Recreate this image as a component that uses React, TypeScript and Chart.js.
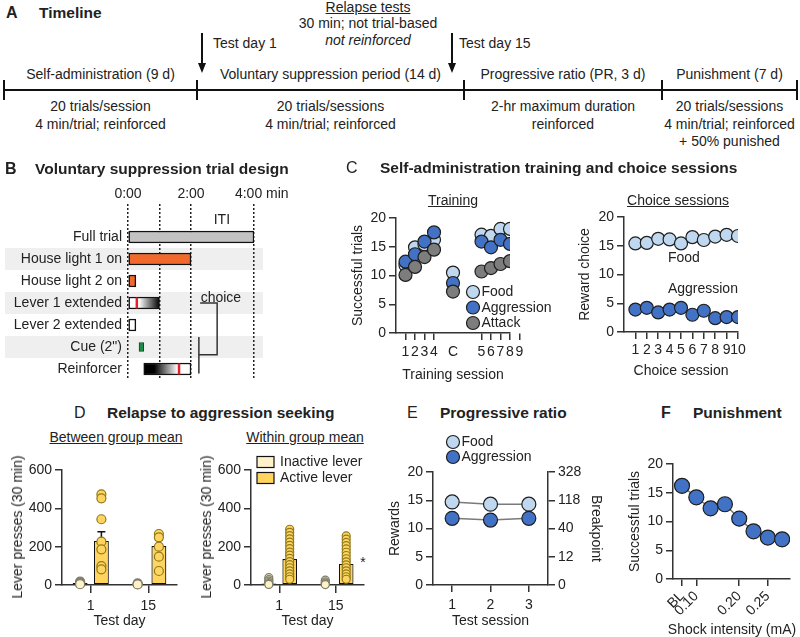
import React, { useEffect, useRef } from 'react';
import { Chart, registerables } from 'chart.js';

Chart.register(...registerables);

const FONT = '"Liberation Sans", Arial, Helvetica, sans-serif';
const INK = '#222222';
const AXIS = '#333333';
const CLEAR = 'rgba(0,0,0,0)';
const FOOD = '#bfd8ef';
const AGGR = '#4272c6';
const ATTACK = '#7d7d7d';
const PT_BORDER = '#1e1e1e';
const INACTIVE = '#fff2c8';
const ACTIVE = '#ffd45f';

Chart.defaults.font.family = FONT;
Chart.defaults.font.size = 14;
Chart.defaults.color = INK;

// ---------------- Panel A: timeline (text content)
const phases = ['Self-administration (9 d)', 'Voluntary suppression period (14 d)', 'Progressive ratio (PR, 3 d)', 'Punishment (7 d)'];
const phaseDetails = [
  ['20 trials/session', '4 min/trial; reinforced'],
  ['20 trials/sessions', '4 min/trial; reinforced'],
  ['2-hr maximum duration', 'reinforced'],
  ['20 trials/sessions', '4 min/trial; reinforced', '+ 50% punished'],
];
const testDays = ['Test day 1', 'Test day 15'];
const relapseText = ['Relapse tests', '30 min; not trial-based', 'not reinforced'];

// ---------------- Panel B: trial design (minutes)
const bRows = ['', 'Full trial', 'House light 1 on', 'House light 2 on', 'Lever 1 extended', 'Lever 2 extended', 'Cue (2")', 'Reinforcer'];
const bOnset = [null, 0, 0, 0, 0, 0, 0.35, 0.5];
const bOffset = [null, 4, 2, 0.25, 1, 0.25, 0.5, 2];
const bCueRow = 6;
const bShadedRows = [2, 4, 6];
const bRedMarkRows = [4, 7];
const bRedMarkTimes = [0.28, 1.62];
const bTimeTicks = [0, 1, 2, 4];
const bTimeLabels = ['0:00', '', '2:00', '    4:00 min'];

// ---------------- Panel C: training
const trainLabels = ['1', '2', '3', '4', 'C', '5', '6', '7', '8', '9'];
const trainFood = [11.8, 14.9, 15.4, 16.2, 10.5, 17.1, 16.9, 18.1, 18.1, 18.0];
const trainAggr = [12.4, 13.7, 15.9, 17.5, 8.7, 15.9, 14.9, 16.2, 15.5, 15.5];
const trainAttack = [10.1, 11.5, 13.2, 14.5, 7.2, 10.7, 11.3, 12.0, 12.5, 11.0];

// ---------------- Panel C: choice sessions
const choiceLabels = ['1', '2', '3', '4', '5', '6', '7', '8', '9', '10'];
const choiceFood = [15.4, 15.5, 16.2, 16.1, 15.4, 16.5, 16.0, 16.6, 16.9, 16.7];
const choiceAggr = [3.9, 4.2, 3.4, 3.9, 4.2, 3.0, 3.7, 2.4, 2.6, 2.6];

// ---------------- Panel D: relapse
const dDays = ['1', '15'];
const btwInactiveMean = [10, 5];
const btwInactiveSem = [4, 2];
const btwActiveMean = [230, 203];
const btwActiveSem = [48, 32];
const btwInactiveDay1 = [18, 14, 10, 7, 4];
const btwInactiveDay15 = [8, 5, 3];
const btwActiveDay1 = [473, 452, 343, 226, 186, 99, 82];
const btwActiveDay15 = [266, 249, 200, 148, 73];

const winInactiveMean = [8, 5];
const winInactiveSem = [3, 2];
const winActiveMean = [136, 110];
const winActiveSem = [16, 14];
const winInactiveDay1 = [38, 28, 20, 13, 7, 3];
const winInactiveDay15 = [25, 17, 11, 6, 2];
const winActiveDay1 = [291, 275, 258, 241, 224, 207, 190, 172, 156, 139, 122, 106, 90, 74, 58, 43, 30];
const winActiveDay15 = [256, 239, 222, 205, 188, 171, 154, 137, 121, 105, 90, 74, 58, 43, 30];

// ---------------- Panel E: progressive ratio
const prSessions = ['1', '2', '3'];
const prFood = [14.7, 14.3, 14.3];
const prAggr = [11.8, 11.5, 11.8];
const breakpointLabels = ['0', '12', '40', '118', '328'];

// ---------------- Panel F: punishment
const shockTickIndex = [0, 1, 4, 6];
const shockTickLabels = ['BL', '0.10', '0.20', '0.25'];
const punishTrials = [16.2, 14.2, 12.3, 13.0, 10.5, 8.3, 7.2, 6.9];

// ---------------- helpers
function yAxis(o: any) {
  return {
    type: 'linear',
    position: o.position || 'left',
    min: o.min,
    max: o.max,
    border: { display: true, color: AXIS, width: 1.5 },
    grid: { display: true, drawOnChartArea: false, drawTicks: true, tickLength: o.tickLen ?? 7, color: AXIS, lineWidth: 1.5 },
    ticks: { color: INK, font: { size: 14 }, padding: 3, stepSize: o.step, autoSkip: false, callback: o.callback },
    title: { display: !!o.title, text: o.title || '', color: INK, font: { size: 14 }, padding: 0 },
    afterFit: (s: any) => { s.width = o.width; },
  };
}

function xAxis(o: any) {
  const a: any = {
    type: o.type || 'linear',
    position: 'bottom',
    border: { display: true, color: AXIS, width: 1.5 },
    grid: { display: true, drawOnChartArea: false, drawTicks: true, tickLength: o.tickLen ?? 7, color: AXIS, lineWidth: 1.5, offset: false },
    ticks: { color: INK, font: { size: 14 }, padding: o.pad ?? 5, autoSkip: false, maxRotation: o.rot ?? 0, minRotation: o.rot ?? 0 },
    title: { display: !!o.title, text: o.title || '', color: INK, font: { size: 14 }, padding: 0 },
    afterFit: (s: any) => { s.height = o.height; },
  };
  if (o.min !== undefined) a.min = o.min;
  if (o.max !== undefined) a.max = o.max;
  if (o.offset !== undefined) a.offset = o.offset;
  if (o.ticksAt) {
    a.afterBuildTicks = (s: any) => { s.ticks = o.ticksAt.map((v: number) => ({ value: v })); };
    a.ticks.callback = (_v: any, i: number) => o.labels[i];
  }
  if (o.tickColor) a.grid.tickColor = o.tickColor;
  return a;
}

function baseOptions(padding: any) {
  return {
    responsive: false,
    maintainAspectRatio: false,
    animation: false,
    devicePixelRatio: 1,
    layout: { padding },
    plugins: { legend: { display: false }, tooltip: { enabled: false } },
  };
}

function drawDot(ctx: any, x: number, y: number, r: number, fill: string, stroke: string, lw = 1.2) {
  ctx.beginPath();
  ctx.arc(x, y, r, 0, Math.PI * 2);
  ctx.fillStyle = fill;
  ctx.fill();
  ctx.lineWidth = lw;
  ctx.strokeStyle = stroke;
  ctx.stroke();
}

function circleLegend(id: string, items: [string, string][], dx: number, dy: number, gap: number, r: number) {
  return {
    id,
    afterDraw(chart: any) {
      const { ctx, chartArea } = chart;
      ctx.save();
      ctx.font = `14px ${FONT}`;
      ctx.textBaseline = 'middle';
      items.forEach(([label, color], k) => {
        const cx = chartArea.left + dx;
        const cy = chartArea.top + dy + k * gap;
        drawDot(ctx, cx, cy, r, color, PT_BORDER);
        ctx.fillStyle = INK;
        ctx.fillText(label, cx + r + 2, cy + 0.5);
      });
      ctx.restore();
    },
  };
}

function ChartBox({ x, y, w, h, make }: any) {
  const ref = useRef<HTMLCanvasElement>(null);
  useEffect(() => {
    const chart = new Chart(ref.current as HTMLCanvasElement, make());
    return () => chart.destroy();
  }, []);
  return <canvas ref={ref} width={w} height={h} style={{ position: 'absolute', left: x, top: y, width: w, height: h }} />;
}

// ---------------- Panel B config
function makeB() {
  const main = bRows.map((_, i) => (bOnset[i] == null || i === bCueRow ? null : [bOnset[i], bOffset[i]]));
  const cue = bRows.map((_, i) => (i === bCueRow ? [bOnset[i], bOffset[i]] : null));
  const solid: Record<number, string> = { 1: '#c2c2c2', 2: '#f26a2b', 3: '#f26a2b', 5: '#ffffff' };
  const shade = {
    id: 'rowShade',
    beforeDraw(chart: any) {
      const { ctx, scales, chartArea } = chart;
      ctx.save();
      ctx.fillStyle = '#efefef';
      bShadedRows.forEach((r) => {
        const yc = scales.y.getPixelForValue(r);
        ctx.fillRect(5, yc - 11, chartArea.right + 9 - 5, 22);
      });
      ctx.restore();
    },
  };
  const notes = {
    id: 'bNotes',
    afterDatasetsDraw(chart: any) {
      const { ctx, scales } = chart;
      const X = (v: number) => scales.x.getPixelForValue(v);
      const Y = (v: number) => scales.y.getPixelForValue(v);
      ctx.save();
      ctx.strokeStyle = '#e3202a';
      ctx.lineWidth = 2.5;
      bRedMarkRows.forEach((r, k) => {
        const x = X(bRedMarkTimes[k]);
        ctx.beginPath();
        ctx.moveTo(x, Y(r) - 5.5);
        ctx.lineTo(x, Y(r) + 5.5);
        ctx.stroke();
      });
      ctx.fillStyle = INK;
      ctx.font = `14px ${FONT}`;
      ctx.textAlign = 'center';
      ctx.textBaseline = 'middle';
      ctx.fillText('ITI', X(2.98), Y(0.25));
      ctx.fillText('choice', X(2.95), Y(3.8));
      ctx.strokeStyle = '#333';
      ctx.lineWidth = 1.5;
      ctx.beginPath();
      ctx.moveTo(X(2.29), Y(4));
      ctx.lineTo(X(2.83), Y(4));
      ctx.lineTo(X(2.83), Y(6.35));
      ctx.lineTo(X(2.25), Y(6.35));
      ctx.moveTo(X(2.25), Y(5.55));
      ctx.lineTo(X(2.25), Y(7.2));
      ctx.stroke();
      ctx.restore();
    },
  };
  return {
    type: 'bar',
    data: {
      labels: bRows,
      datasets: [
        {
          data: main,
          grouped: false,
          barThickness: 12,
          borderWidth: 1.5,
          borderColor: '#111',
          borderSkipped: false,
          backgroundColor: (c: any) => {
            const i = c.dataIndex;
            if (i === 4 || i === 7) {
              const chart = c.chart;
              const xs = chart.scales && chart.scales.x;
              if (!xs || !chart.chartArea) return '#888';
              const g = chart.ctx.createLinearGradient(xs.getPixelForValue(bOnset[i]), 0, xs.getPixelForValue(bOffset[i]), 0);
              if (i === 4) {
                g.addColorStop(0, '#ffffff');
                g.addColorStop(0.35, '#ffffff');
                g.addColorStop(1, '#000000');
              } else {
                g.addColorStop(0, '#000000');
                g.addColorStop(0.22, '#000000');
                g.addColorStop(0.72, '#ffffff');
                g.addColorStop(1, '#ffffff');
              }
              return g;
            }
            return solid[i] || '#ccc';
          },
        },
        {
          data: cue,
          grouped: false,
          barThickness: 9,
          borderWidth: 1,
          borderColor: '#0c4a22',
          borderSkipped: false,
          backgroundColor: '#1d8b45',
        },
      ],
    },
    options: {
      ...baseOptions({ top: 0, right: 46, bottom: 16, left: 0 }),
      indexAxis: 'y',
      scales: {
        x: {
          type: 'linear',
          position: 'top',
          min: 0,
          max: 4,
          afterBuildTicks: (s: any) => { s.ticks = bTimeTicks.map((v) => ({ value: v })); },
          afterFit: (s: any) => { s.height = 28; },
          border: { display: false, dash: [2, 2] },
          grid: { display: true, drawOnChartArea: true, drawTicks: false, color: '#222', lineWidth: 1.5 },
          ticks: { padding: 1, color: INK, font: { size: 14 }, autoSkip: false, maxRotation: 0, callback: (_v: any, i: number) => bTimeLabels[i] },
        },
        y: {
          type: 'category',
          afterFit: (s: any) => { s.width = 128; },
          border: { display: false },
          grid: { display: false, drawTicks: false },
          ticks: { padding: 6, color: INK, font: { size: 14 }, autoSkip: false },
        },
      },
    },
    plugins: [shade, notes],
  };
}

// ---------------- Panel C configs
function makeTraining() {
  const xs = trainLabels.map((_, i) => (i < 4 ? i + 1 : i === 4 ? 6 : i + 4));
  const pts = (arr: number[]) => arr.map((v, i) => ({ x: xs[i], y: v }));
  const ds = (arr: number[], color: string, order: number) => ({
    data: pts(arr), pointRadius: 6.5, pointBackgroundColor: color, pointBorderColor: PT_BORDER, pointBorderWidth: 1.2, order, showLine: false,
  });
  return {
    type: 'scatter',
    data: { datasets: [ds(trainFood, FOOD, 3), ds(trainAggr, AGGR, 2), ds(trainAttack, ATTACK, 1)] },
    options: {
      ...baseOptions({ top: 12, right: 50, bottom: 0, left: 0 }),
      scales: {
        x: xAxis({
          min: 0, max: 12, ticksAt: xs, labels: trainLabels, height: 51, pad: 4, title: 'Training session',
          tickColor: (c: any) => (trainLabels[c.index] === 'C' ? CLEAR : AXIS),
        }),
        y: yAxis({ min: 0, max: 20, step: 5, width: 46, title: 'Successful trials' }),
      },
    },
    plugins: [circleLegend('trainLegend', [['Food', FOOD], ['Aggression', AGGR], ['Attack', ATTACK]], 77, 74, 15.5, 6.5)],
  };
}

function makeChoice() {
  const xs = choiceLabels.map((_, i) => i + 1);
  const pts = (arr: number[]) => arr.map((v, i) => ({ x: xs[i], y: v }));
  const ds = (arr: number[], color: string) => ({
    data: pts(arr), pointRadius: 6.5, pointBackgroundColor: color, pointBorderColor: PT_BORDER, pointBorderWidth: 1.2, showLine: false,
  });
  const labels = {
    id: 'choiceLabels',
    afterDraw(chart: any) {
      const { ctx, scales } = chart;
      ctx.save();
      ctx.font = `14px ${FONT}`;
      ctx.fillStyle = INK;
      ctx.textBaseline = 'middle';
      ctx.fillText('Food', scales.x.getPixelForValue(3.85), scales.y.getPixelForValue(12.9));
      ctx.fillText('Aggression', scales.x.getPixelForValue(3.85), scales.y.getPixelForValue(7.5));
      ctx.restore();
    },
  };
  return {
    type: 'scatter',
    data: { datasets: [ds(choiceFood, FOOD), ds(choiceAggr, AGGR)] },
    options: {
      ...baseOptions({ top: 12, right: 24, bottom: 0, left: 0 }),
      scales: {
        x: xAxis({ min: 0, max: 10, ticksAt: xs, labels: choiceLabels, height: 48, pad: 3, title: 'Choice session' }),
        y: yAxis({ min: 0, max: 20, step: 5, width: 47, title: 'Reward choice' }),
      },
    },
    plugins: [labels],
  };
}

// ---------------- Panel D configs
function makeRelapse(inMean: number[], inSem: number[], acMean: number[], acSem: number[], indiv: number[][][], dotR: number, withLegend: boolean) {
  const dots = {
    id: 'dotsErr',
    afterDatasetsDraw(chart: any) {
      const { ctx, scales } = chart;
      const sems = [inSem, acSem];
      const fills = [INACTIVE, ACTIVE];
      const strokes = ['#7c7c6a', '#8f7a1c'];
      ctx.save();
      chart.data.datasets.forEach((d: any, di: number) => {
        const meta = chart.getDatasetMeta(di);
        meta.data.forEach((bar: any, i: number) => {
          const yb = scales.y.getPixelForValue(d.data[i]);
          const yt = scales.y.getPixelForValue(d.data[i] + sems[di][i]);
          ctx.strokeStyle = '#111';
          ctx.lineWidth = 1.5;
          ctx.beginPath();
          ctx.moveTo(bar.x, yb);
          ctx.lineTo(bar.x, yt);
          ctx.moveTo(bar.x - 4, yt);
          ctx.lineTo(bar.x + 4, yt);
          ctx.stroke();
          indiv[di][i].forEach((v) => drawDot(ctx, bar.x, scales.y.getPixelForValue(v), dotR, fills[di], strokes[di], 1.2));
        });
      });
      if (withLegend) {
        const { chartArea } = chart;
        ctx.font = `14px ${FONT}`;
        ctx.textBaseline = 'middle';
        [['Inactive lever', INACTIVE], ['Active lever', ACTIVE]].forEach(([lab, col], k) => {
          const cy = chartArea.top - 8 + k * 16;
          ctx.fillStyle = col;
          ctx.fillRect(chartArea.left + 6, cy - 5.5, 17, 11);
          ctx.strokeStyle = '#111';
          ctx.lineWidth = 1.2;
          ctx.strokeRect(chartArea.left + 6, cy - 5.5, 17, 11);
          ctx.fillStyle = INK;
          ctx.fillText(lab, chartArea.left + 29, cy + 0.5);
        });
        const bar = chart.getDatasetMeta(1).data[1];
        ctx.fillStyle = INK;
        ctx.fillText('*', bar.x + 14, scales.y.getPixelForValue(112));
      }
      ctx.restore();
    },
  };
  const bar = (data: number[], color: string) => ({
    data, backgroundColor: color, borderColor: '#111', borderWidth: 1.2, borderSkipped: false, categoryPercentage: 0.74, barPercentage: 0.7,
  });
  return {
    type: 'bar',
    data: { labels: dDays, datasets: [bar(inMean, INACTIVE), bar(acMean, ACTIVE)] },
    options: {
      ...baseOptions({ top: 20, right: 16, bottom: 0, left: 0 }),
      scales: {
        x: xAxis({ type: 'category', offset: true, height: 45, tickLen: 8, pad: 5, title: 'Test day' }),
        y: yAxis({ min: 0, max: 600, step: 200, width: 54 }),
      },
    },
    plugins: [dots],
  };
}

// ---------------- Panel E config
function makePR() {
  const ds = (data: number[], color: string, order: number) => ({
    data, borderColor: '#7a7a7a', borderWidth: 1.5, pointRadius: 7, pointBackgroundColor: color, pointBorderColor: PT_BORDER, pointBorderWidth: 1.2, fill: false, tension: 0, order,
  });
  return {
    type: 'line',
    data: { labels: prSessions, datasets: [ds(prFood, FOOD, 2), ds(prAggr, AGGR, 1)] },
    options: {
      ...baseOptions({ top: 42, right: 0, bottom: 0, left: 0 }),
      scales: {
        x: xAxis({ type: 'category', offset: true, height: 45, pad: 5, title: 'Test session' }),
        y: yAxis({ min: 0, max: 20, step: 5, width: 46, title: 'Rewards' }),
        y1: yAxis({ position: 'right', min: 0, max: 20, step: 5, width: 56, title: 'Breakpoint', callback: (v: number) => breakpointLabels[Math.round(v / 5)] }),
      },
    },
    plugins: [circleLegend('prLegend', [['Food', FOOD], ['Aggression', AGGR]], 20, -30, 15, 6.5)],
  };
}

// ---------------- Panel F config
function makePunish() {
  return {
    type: 'scatter',
    data: {
      datasets: [{
        data: punishTrials.map((v, i) => ({ x: i, y: v })), showLine: true, borderColor: '#7a7a7a', borderWidth: 1.5,
        pointRadius: 7.5, pointBackgroundColor: AGGR, pointBorderColor: PT_BORDER, pointBorderWidth: 1.2,
      }],
    },
    options: {
      ...baseOptions({ top: 24, right: 10, bottom: 0, left: 0 }),
      scales: {
        x: xAxis({ min: -0.63, max: 7.55, ticksAt: shockTickIndex, labels: shockTickLabels, height: 58, pad: 2, rot: 45 }),
        y: yAxis({ min: 0, max: 20, step: 5, width: 46, title: 'Successful trials' }),
      },
    },
  };
}

// ---------------- HTML text helpers
function Txt({ x, y, children, center = false, bold = false, italic = false, underline = false, size = 14, vertical = false }: any) {
  const transform = vertical ? 'translate(-50%, -50%) rotate(-90deg)' : center ? 'translateX(-50%)' : undefined;
  return (
    <div
      style={{
        position: 'absolute', left: x, top: vertical ? y : y - 9, height: 18, lineHeight: '18px', fontSize: size,
        fontWeight: bold ? 700 : 400, fontStyle: italic ? 'italic' : 'normal',
        textDecoration: underline ? 'underline' : 'none', whiteSpace: 'nowrap',
        transform, color: INK, fontFamily: FONT,
      }}
    >
      {children}
    </div>
  );
}

function PanelTitle({ lx, tx, y, letter, title, boldLetter }: any) {
  return (
    <>
      <Txt x={lx} y={y} size={16} bold={boldLetter}>{letter}</Txt>
      <Txt x={tx} y={y} size={15.5} bold>{title}</Txt>
    </>
  );
}

function Rect({ x, y, w, h }: any) {
  return <div style={{ position: 'absolute', left: x, top: y, width: w, height: h, background: '#111' }} />;
}

function Arrow({ x, y0, y1 }: any) {
  return (
    <>
      <div style={{ position: 'absolute', left: x - 0.75, top: y0, width: 1.5, height: y1 - y0 - 8, background: '#111' }} />
      <div style={{ position: 'absolute', left: x - 4.5, top: y1 - 10, width: 0, height: 0, borderLeft: '4.5px solid transparent', borderRight: '4.5px solid transparent', borderTop: '10px solid #111' }} />
    </>
  );
}

const TL_X = [4, 197, 464, 662, 797];
const TL_Y = 90;

export default function App() {
  return (
    <div style={{ position: 'absolute', left: 0, top: 0, width: 800, height: 637, background: '#fff', overflow: 'hidden', fontFamily: FONT }}>
      {/* Panel A */}
      <PanelTitle lx={6} tx={39} y={13} letter="A" title="Timeline" boldLetter />
      <Rect x={TL_X[0]} y={TL_Y - 1} w={TL_X[4] - TL_X[0]} h={2} />
      {TL_X.map((x, i) => <Rect key={i} x={x - 1} y={TL_Y - 10} w={2} h={20} />)}
      {phases.map((p, i) => (
        <Txt key={p} x={(TL_X[i] + TL_X[i + 1]) / 2} y={74} center>{p}</Txt>
      ))}
      {phaseDetails.map((lines, i) =>
        lines.map((l, k) => (
          <Txt key={i + '-' + k} x={(TL_X[i] + TL_X[i + 1]) / 2} y={106 + k * 17.5} center>{l}</Txt>
        ))
      )}
      <Arrow x={202} y0={33} y1={73} />
      <Arrow x={452} y0={33} y1={73} />
      <Txt x={213} y={43}>{testDays[0]}</Txt>
      <Txt x={459} y={43}>{testDays[1]}</Txt>
      <Txt x={368} y={7} center underline>{relapseText[0]}</Txt>
      <Txt x={368} y={23} center>{relapseText[1]}</Txt>
      <Txt x={368} y={40} center italic>{relapseText[2]}</Txt>

      {/* Panel B */}
      <ChartBox x={0} y={176} w={300} h={220} make={makeB} />
      <PanelTitle lx={5} tx={35} y={169} letter="B" title="Voluntary suppression trial design" boldLetter />

      {/* Panel C */}
      <ChartBox x={350} y={206} w={210} h={178} make={makeTraining} />
      <ChartBox x={577} y={205} w={185} h={175} make={makeChoice} />
      <PanelTitle lx={346} tx={380} y={168} letter="C" title="Self-administration training and choice sessions" />
      <Txt x={453} y={200} center underline>Training</Txt>
      <Txt x={678} y={200} center underline>Choice sessions</Txt>

      {/* Panel D */}
      <ChartBox x={8} y={450} w={185} h={180}
        make={() => makeRelapse(btwInactiveMean, btwInactiveSem, btwActiveMean, btwActiveSem,
          [[btwInactiveDay1, btwInactiveDay15], [btwActiveDay1, btwActiveDay15]], 4.5, false)} />
      <ChartBox x={197} y={450} w={183} h={180}
        make={() => makeRelapse(winInactiveMean, winInactiveSem, winActiveMean, winActiveSem,
          [[winInactiveDay1, winInactiveDay15], [winActiveDay1, winActiveDay15]], 4, true)} />
      <Txt x={17} y={527} vertical>Lever presses (30 min)</Txt>
      <Txt x={206} y={527} vertical>Lever presses (30 min)</Txt>
      <PanelTitle lx={74} tx={107} y={413} letter="D" title="Relapse to aggression seeking" />
      <Txt x={116} y={437} center underline>Between group mean</Txt>
      <Txt x={305} y={437} center underline>Within group mean</Txt>

      {/* Panel E */}
      <ChartBox x={387} y={430} w={217} h={200} make={makePR} />
      <PanelTitle lx={407} tx={440} y={413} letter="E" title="Progressive ratio" />

      {/* Panel F */}
      <ChartBox x={627} y={440} w={173} h={197} make={makePunish} />
      <Txt x={732} y={629} center>Shock intensity (mA)</Txt>
      <PanelTitle lx={661} tx={693} y={413} letter="F" title="Punishment" boldLetter />
    </div>
  );
}
